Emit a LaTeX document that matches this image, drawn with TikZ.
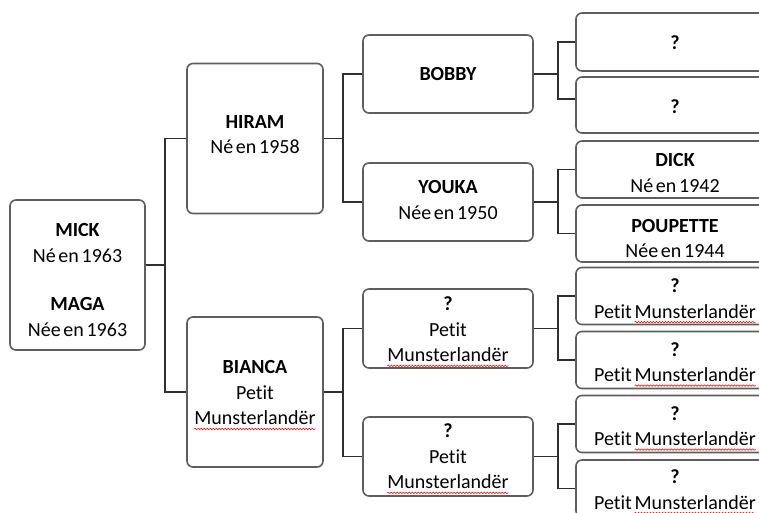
\documentclass[tikz,border=0pt]{standalone}
\usepackage{fontspec}
\setmainfont[WordSpace=0.6,Ligatures=NoCommon]{Carlito}
\usetikzlibrary{decorations.pathmorphing}
\definecolor{boxgray}{HTML}{5E5E5E}
\definecolor{linegray}{HTML}{303030}
\newlength\wavew
\newcommand\redwave[1]{\settowidth\wavew{#1}\leavevmode\tikz[overlay,baseline=0pt]\draw[draw=red, fill=none, line width=0.6pt, sharp corners, decorate, decoration={snake, amplitude=0.7pt, segment length=3pt}] (0pt,-4pt) -- (\wavew,-4pt);#1}
\begin{document}
\begin{tikzpicture}[x=1pt,y=-1pt,
  box/.style={draw=boxgray, line width=1.6pt, rounded corners=6pt, fill=white, inner sep=0pt},
  bigbox/.style={box, minimum width=136pt, minimum height=150pt},
  midbox/.style={box, minimum width=170pt, minimum height=78pt},
  smallbox/.style={box, minimum width=198pt, minimum height=57pt},
  txt/.style={align=center, inner sep=0pt, font=\fontsize{20}{25.5}\selectfont},
  link/.style={draw=linegray, line width=1.6pt}]
\clip (0,0) rectangle (759,512);
\fill[white] (0,0) rectangle (759,512);
\useasboundingbox (0,0) rectangle (759,512);

% junction coordinates
\coordinate (j1) at (165,0);
\coordinate (j2) at (343,0);
\coordinate (j3) at (558,0);

% column 1
\node[bigbox, minimum width=135pt] (mick) at (77.5,275) {};
\node[txt] (mickT) at ([yshift=-5pt]mick.center)
  {\textbf{MICK}\\Né en 1963\\[23pt]\textbf{MAGA}\\Née en 1963};

% column 2
\node[bigbox] (hiram) at (255,138.5) {};
\node[txt] (hiramT) at ([yshift=4pt]hiram.center) {\textbf{HIRAM}\\Né en 1958};
\node[bigbox] (bianca) at (255,392) {};
\node[txt] (biancaT) at ([yshift=-1pt]bianca.center) {\textbf{BIANCA}\\Petit\\\redwave{Munsterlandër}};

% column 3
\node[midbox] (bobby) at (448,74) {};
\node[txt] (bobbyT) at (bobby.center) {\textbf{BOBBY}};
\node[midbox] (youka) at (448,202) {};
\node[txt] (youkaT) at ([yshift=2pt]youka.center) {\textbf{YOUKA}\\Née en 1950};
\node[midbox, minimum height=79pt] (q1) at (448,328.5) {};
\node[txt] (q1T) at ([yshift=-1pt]q1.center) {\textbf{?}\\Petit\\\redwave{Munsterlandër}};
\node[midbox, minimum height=79pt] (q2) at (448,456.5) {};
\node[txt] (q2T) at (q2.center) {\textbf{?}\\Petit\\\redwave{Munsterlandër}};

% column 4
\node[smallbox, minimum height=58pt] (a) at (675,42) {};
\node[txt] (aT) at ([yshift=-1pt]a.center) {\textbf{?}};
\node[smallbox, minimum height=56pt] (b) at (675,105) {};
\node[txt] (bT) at ([yshift=-1.5pt]b.center) {\textbf{?}};
\node[smallbox] (c) at (675,169.5) {};
\node[txt] (cT) at ([yshift=-3.5pt]c.center) {\textbf{DICK}\\Né en 1942};
\node[smallbox] (d) at (675,233.5) {};
\node[txt] (dT) at ([yshift=-5pt]d.center) {\textbf{POUPETTE}\\Née en 1944};
\node[smallbox] (e) at (675,296) {};
\node[txt] (eT) at ([yshift=-2.5pt]e.center) {\textbf{?}\\Petit \redwave{Munsterlandër}};
\node[smallbox] (f) at (675,360) {};
\node[txt] (fT) at ([yshift=-2pt]f.center) {\textbf{?}\\Petit \redwave{Munsterlandër}};
\node[smallbox] (g) at (675,424) {};
\node[txt] (gT) at ([yshift=-2pt]g.center) {\textbf{?}\\Petit \redwave{Munsterlandër}};
\node[smallbox] (h) at (675,488.5) {};
\node[txt] (hT) at ([yshift=-1pt]h.center) {\textbf{?}\\Petit \redwave{Munsterlandër}};

% connectors column 1 -> 2
\draw[link] ([yshift=10pt]mick.east) -- ([yshift=10pt]mick.east -| j1);
\draw[link] (hiram.west) -- (hiram.west -| j1) -- (bianca.west -| j1) -- (bianca.west);

% connectors column 2 -> 3
\draw[link] (hiram.east) -- (hiram.east -| j2);
\draw[link] (bobby.west) -- (bobby.west -| j2) -- (youka.west -| j2) -- (youka.west);
\draw[link] (bianca.east) -- (bianca.east -| j2);
\draw[link] (q1.west) -- (q1.west -| j2) -- (q2.west -| j2) -- (q2.west);

% connectors column 3 -> 4
\draw[link] (bobby.east) -- (bobby.east -| j3);
\draw[link] (a.west) -- (a.west -| j3) -- ([yshift=6pt]b.west -| j3) -- ([yshift=6pt]b.west);
\draw[link] (youka.east) -- (youka.east -| j3);
\draw[link] (c.west) -- (c.west -| j3) -- (d.west -| j3) -- (d.west);
\draw[link] (q1.east) -- (q1.east -| j3);
\draw[link] (e.west) -- (e.west -| j3) -- (f.west -| j3) -- (f.west);
\draw[link] (q2.east) -- (q2.east -| j3);
\draw[link] (g.west) -- (g.west -| j3) -- (h.west -| j3) -- (h.west);
\end{tikzpicture}
\end{document}
